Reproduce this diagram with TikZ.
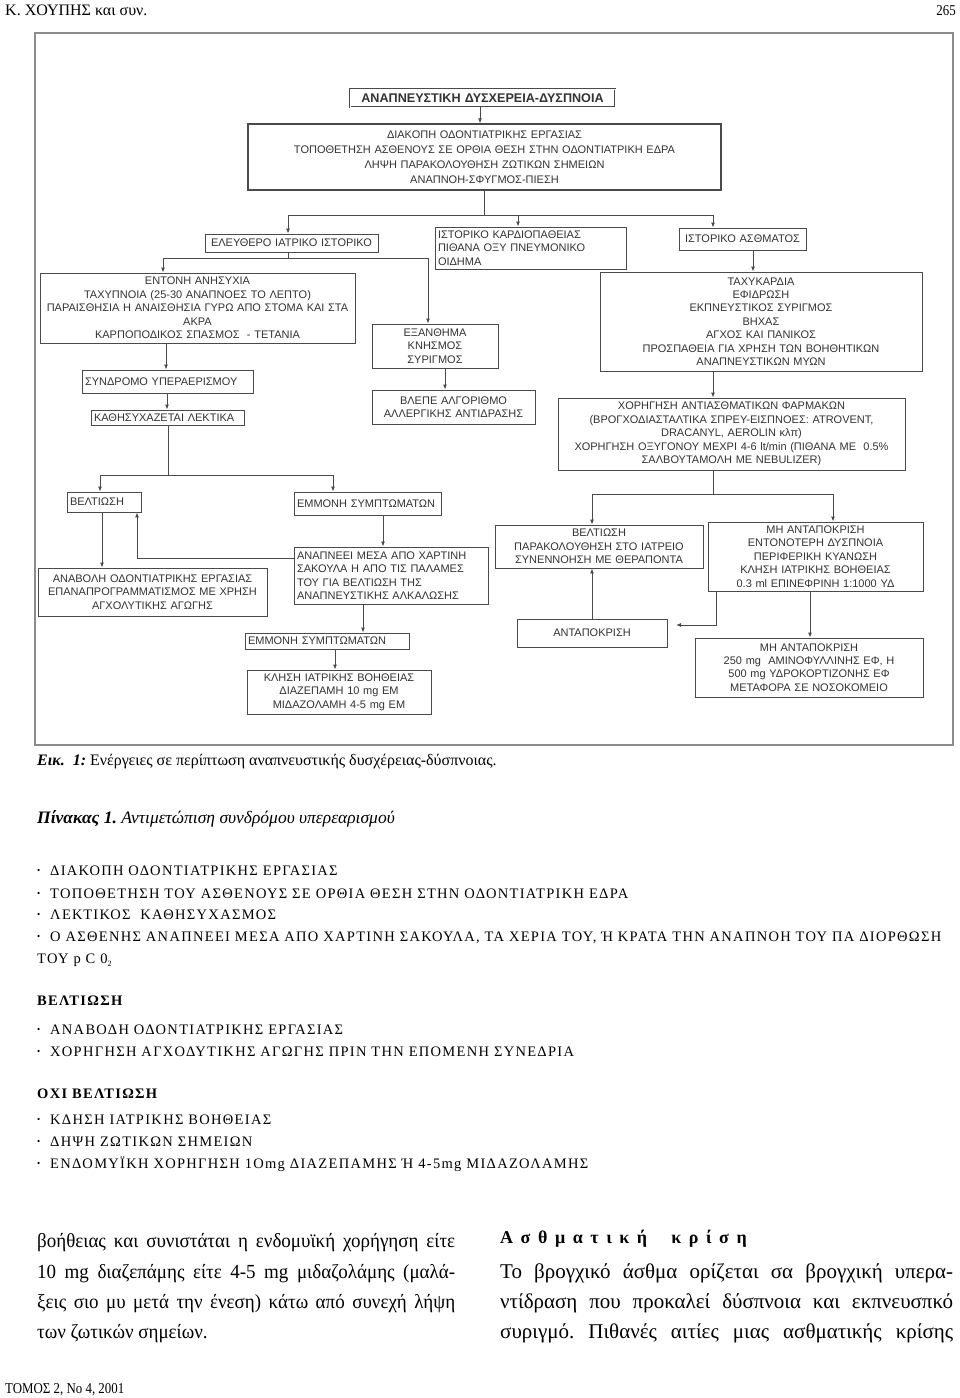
\documentclass[tikz,border=0pt]{standalone}
\usepackage{fontspec}
\setmainfont{Liberation Serif}
\newfontfamily\fcfont{Liberation Sans}
\newfontfamily\lsfont[LetterSpace=9]{Liberation Serif}
\newfontfamily\narrowfont[FakeStretch=0.86]{Liberation Serif}
\newfontfamily\parafont[FakeStretch=0.95]{Liberation Serif}
\newfontfamily\wideboldfont[LetterSpace=42]{Liberation Serif}
\frenchspacing
\usetikzlibrary{arrows.meta}
\definecolor{linec}{HTML}{4A4A4A}
\definecolor{txtc}{HTML}{333333}
\definecolor{framec}{HTML}{8C8C8C}
\tikzset{
  box/.style={draw=linec, line width=0.9pt, inner xsep=2pt, inner ysep=1pt,
    font=\fcfont\fontsize{11}{13.4}\selectfont, text=txtc},
  arr/.style={draw=linec, line width=0.9pt, -{Latex[length=5pt,width=4pt]}},
  ln/.style={draw=linec, line width=0.9pt},
  body/.style={anchor=base west, inner sep=0pt, font=\fontsize{16}{18}\selectfont},
  lst/.style={anchor=base west, inner sep=0pt, font=\lsfont\fontsize{14.5}{17}\selectfont},
  para/.style={anchor=base west, inner sep=0pt, font=\parafont\fontsize{20}{24}\selectfont},
  parar/.style={anchor=base west, inner sep=0pt, font=\fontsize{21}{24}\selectfont},
}
\newcommand\fbx[7][]{%
  \pgfmathsetmacro\bxw{#5-#3}%
  \pgfmathsetmacro\bxh{#6-#4}%
  \pgfmathsetmacro\bxt{#5-#3-4}%
  \node[box,align=center,text width=\bxt pt,minimum width=\bxw pt,minimum height=\bxh pt,#1] (#2) at ({(#3+#5)/2},{(#4+#6)/2}) {#7};%
}
\newcommand\bul{\makebox[13pt][l]{\fontsize{9}{9}\selectfont\raisebox{1.5pt}{•}}}
\begin{document}
\begin{tikzpicture}[x=1pt,y=-1pt]
\useasboundingbox (0,0) rectangle (960,1398);
\fill[white] (0,0) rectangle (960,1398);
% header / footer
\node[anchor=base west, inner sep=0pt, font=\fontsize{16}{18}\selectfont] (hdr) at (5,15) {Κ. ΧΟΥΠΗΣ και συν.};
\node[anchor=base east, inner sep=0pt, font=\narrowfont\fontsize{15}{17}\selectfont] (pg) at (956,15) {265};
\node[anchor=base west, inner sep=0pt, font=\narrowfont\fontsize{15}{17}\selectfont] (ftr) at (5,1393) {ΤΟΜΟΣ 2, Νο 4, 2001};
% frame
\draw[framec, line width=1.3pt] (35,33) rectangle (953,745);
% boxes
\fbx[double, double distance=1pt, font=\fcfont\bfseries\fontsize{12.6}{14}\selectfont]{title}{350}{89}{615}{107}{ΑΝΑΠΝΕΥΣΤΙΚΗ ΔΥΣΧΕΡΕΙΑ-ΔΥΣΠΝΟΙΑ}
\fbx[line width=1.3pt, font=\fcfont\fontsize{11}{15}\selectfont]{acts}{248}{124}{721}{190}{ΔΙΑΚΟΠΗ ΟΔΟΝΤΙΑΤΡΙΚΗΣ ΕΡΓΑΣΙΑΣ\\ΤΟΠΟΘΕΤΗΣΗ ΑΣΘΕΝΟΥΣ ΣΕ ΟΡΘΙΑ ΘΕΣΗ ΣΤΗΝ ΟΔΟΝΤΙΑΤΡΙΚΗ ΕΔΡΑ\\ΛΗΨΗ ΠΑΡΑΚΟΛΟΥΘΗΣΗ ΖΩΤΙΚΩΝ ΣΗΜΕΙΩΝ\\ΑΝΑΠΝΟΗ-ΣΦΥΓΜΟΣ-ΠΙΕΣΗ}
\fbx{free}{205}{234}{378}{252}{ΕΛΕΥΘΕΡΟ ΙΑΤΡΙΚΟ ΙΣΤΟΡΙΚΟ}
\fbx[align=left, inner xsep=3pt]{cardio}{436}{227}{625}{269}{ΙΣΤΟΡΙΚΟ ΚΑΡΔΙΟΠΑΘΕΙΑΣ\\ΠΙΘΑΝΑ ΟΞΥ ΠΝΕΥΜΟΝΙΚΟ\\ΟΙΔΗΜΑ}
\fbx{asthma}{679}{228}{806}{250}{ΙΣΤΟΡΙΚΟ ΑΣΘΜΑΤΟΣ}
\fbx{anx}{40}{273}{355}{343}{ΕΝΤΟΝΗ ΑΝΗΣΥΧΙΑ\\ΤΑΧΥΠΝΟΙΑ (25-30 ΑΝΑΠΝΟΕΣ ΤΟ ΛΕΠΤΟ)\\ΠΑΡΑΙΣΘΗΣΙΑ Η ΑΝΑΙΣΘΗΣΙΑ ΓΥΡΩ ΑΠΟ ΣΤΟΜΑ ΚΑΙ ΣΤΑ\\ΑΚΡΑ\\ΚΑΡΠΟΠΟΔΙΚΟΣ ΣΠΑΣΜΟΣ \ - ΤΕΤΑΝΙΑ}
\fbx[align=left, inner xsep=3pt]{synd}{83}{370}{252}{393}{ΣΥΝΔΡΟΜΟ ΥΠΕΡΑΕΡΙΣΜΟΥ}
\fbx[align=left, inner xsep=3pt]{calm}{92}{410}{243}{425}{ΚΑΘΗΣΥΧΑΖΕΤΑΙ ΛΕΚΤΙΚΑ}
\fbx{rash}{372}{324}{498}{368}{ΕΞΑΝΘΗΜΑ\\ΚΝΗΣΜΟΣ\\ΣΥΡΙΓΜΟΣ}
\fbx{allerg}{372}{390}{535}{424}{ΒΛΕΠΕ ΑΛΓΟΡΙΘΜΟ\\ΑΛΛΕΡΓΙΚΗΣ ΑΝΤΙΔΡΑΣΗΣ}
\fbx{tachy}{600}{272}{922}{371}{ΤΑΧΥΚΑΡΔΙΑ\\ΕΦΙΔΡΩΣΗ\\ΕΚΠΝΕΥΣΤΙΚΟΣ ΣΥΡΙΓΜΟΣ\\ΒΗΧΑΣ\\ΑΓΧΟΣ ΚΑΙ ΠΑΝΙΚΟΣ\\ΠΡΟΣΠΑΘΕΙΑ ΓΙΑ ΧΡΗΣΗ ΤΩΝ ΒΟΗΘΗΤΙΚΩΝ\\ΑΝΑΠΝΕΥΣΤΙΚΩΝ ΜΥΩΝ}
\fbx{drugs}{558}{398}{905}{470}{ΧΟΡΗΓΗΣΗ ΑΝΤΙΑΣΘΜΑΤΙΚΩΝ ΦΑΡΜΑΚΩΝ\\(ΒΡΟΓΧΟΔΙΑΣΤΑΛΤΙΚΑ ΣΠΡΕΥ-ΕΙΣΠΝΟΕΣ: ATROVENT,\\DRACANYL, AEROLIN κλπ)\\ΧΟΡΗΓΗΣΗ ΟΞΥΓΟΝΟΥ ΜΕΧΡΙ 4-6 lt/min (ΠΙΘΑΝΑ ΜΕ \ 0.5\%\\ΣΑΛΒΟΥΤΑΜΟΛΗ ΜΕ NEBULIZER)}
\fbx[align=left, inner xsep=3pt]{better1}{68}{492}{140}{512}{ΒΕΛΤΙΩΣΗ}
\fbx[align=left, inner xsep=3pt]{persist1}{295}{492}{440}{515}{ΕΜΜΟΝΗ ΣΥΜΠΤΩΜΑΤΩΝ}
\fbx{postpone}{38}{568}{267}{616}{ΑΝΑΒΟΛΗ ΟΔΟΝΤΙΑΤΡΙΚΗΣ ΕΡΓΑΣΙΑΣ\\ΕΠΑΝΑΠΡΟΓΡΑΜΜΑΤΙΣΜΟΣ ΜΕ ΧΡΗΣΗ\\ΑΓΧΟΛΥΤΙΚΗΣ ΑΓΩΓΗΣ}
\fbx[align=left, inner xsep=3pt]{bag}{295}{547}{487}{604}{ΑΝΑΠΝΕΕΙ ΜΕΣΑ ΑΠΟ ΧΑΡΤΙΝΗ\\ΣΑΚΟΥΛΑ Η ΑΠΟ ΤΙΣ ΠΑΛΑΜΕΣ\\ΤΟΥ ΓΙΑ ΒΕΛΤΙΩΣΗ ΤΗΣ\\ΑΝΑΠΝΕΥΣΤΙΚΗΣ ΑΛΚΑΛΩΣΗΣ}
\fbx[align=left, inner xsep=3pt]{persist2}{246}{633}{408}{649}{ΕΜΜΟΝΗ ΣΥΜΠΤΩΜΑΤΩΝ}
\fbx{call}{247}{670}{431}{714}{ΚΛΗΣΗ ΙΑΤΡΙΚΗΣ ΒΟΗΘΕΙΑΣ\\ΔΙΑΖΕΠΑΜΗ 10 mg ΕΜ\\ΜΙΔΑΖΟΛΑΜΗ 4-5 mg ΕΜ}
\fbx{better2}{495}{525}{703}{568}{ΒΕΛΤΙΩΣΗ\\ΠΑΡΑΚΟΛΟΥΘΗΣΗ ΣΤΟ ΙΑΤΡΕΙΟ\\ΣΥΝΕΝΝΟΗΣΗ ΜΕ ΘΕΡΑΠΟΝΤΑ}
\fbx{noresp1}{708}{522}{923}{591}{ΜΗ ΑΝΤΑΠΟΚΡΙΣΗ\\ΕΝΤΟΝΟΤΕΡΗ ΔΥΣΠΝΟΙΑ\\ΠΕΡΙΦΕΡΙΚΗ ΚΥΑΝΩΣΗ\\ΚΛΗΣΗ ΙΑΤΡΙΚΗΣ ΒΟΗΘΕΙΑΣ\\0.3 ml ΕΠΙΝΕΦΡΙΝΗ 1:1000 ΥΔ}
\fbx{resp}{517}{619}{667}{647}{ΑΝΤΑΠΟΚΡΙΣΗ}
\fbx{noresp2}{695}{638}{923}{697}{ΜΗ ΑΝΤΑΠΟΚΡΙΣΗ\\250 mg \ ΑΜΙΝΟΦΥΛΛΙΝΗΣ ΕΦ, Η\\500 mg ΥΔΡΟΚΟΡΤΙΖΟΝΗΣ ΕΦ\\ΜΕΤΑΦΟΡΑ ΣΕ ΝΟΣΟΚΟΜΕΙΟ}
% junction coordinates
\coordinate (j1) at (484,215);
\coordinate (j1L) at (288,215);
\coordinate (j1M) at (518,215);
\coordinate (j1R) at (713,215);
\coordinate (j2) at (288,258);
\coordinate (j2L) at (163,258);
\coordinate (j2R) at (428,258);
\coordinate (j3) at (168,475);
\coordinate (j3L) at (100,475);
\coordinate (j3R) at (333,475);
\coordinate (j4) at (137,558);
\coordinate (j5) at (713,494);
\coordinate (j5L) at (592,494);
\coordinate (j5R) at (833,494);
\coordinate (j6) at (716,625);
\coordinate (j6e) at (676,625);
% connectors
\draw[arr] (title.south -| 480,0) -- (acts.north -| 480,0);
\draw[ln] (acts.south -| j1) -- (j1);
\draw[ln] (j1L) -- (j1R);
\draw[arr] (j1L) -- (free.north -| j1L);
\draw[arr] (j1M) -- (cardio.north -| j1M);
\draw[arr] (j1R) -- (asthma.north -| j1R);
\draw[ln] (free.south -| j2) -- (j2);
\draw[ln] (j2L) -- (j2R);
\draw[arr] (j2L) -- (anx.north -| j2L);
\draw[arr] (j2R) -- (rash.north -| j2R);
\draw[arr] (anx.south -| 166,0) -- (synd.north -| 166,0);
\draw[arr] (synd.south -| 167,0) -- (calm.north -| 167,0);
\draw[ln] (calm.south -| j3) -- (j3);
\draw[ln] (j3L) -- (j3R);
\draw[arr] (j3L) -- (better1.north -| j3L);
\draw[arr] (j3R) -- (persist1.north -| j3R);
\draw[arr] (better1.south -| 102,0) -- (postpone.north -| 102,0);
\draw[arr] (bag.west |- j4) -- (j4) -- (better1.south -| j4);
\draw[arr] (persist1.south -| 383,0) -- (bag.north -| 383,0);
\draw[arr] (bag.south -| 363,0) -- (persist2.north -| 363,0);
\draw[arr] (persist2.south -| 335,0) -- (call.north -| 335,0);
\draw[arr] (rash.south -| 445,0) -- (allerg.north -| 445,0);
\draw[arr] (asthma.south -| 753,0) -- (tachy.north -| 753,0);
\draw[arr] (tachy.south -| j5) -- (drugs.north -| j5);
\draw[ln] (drugs.south -| j5) -- (j5);
\draw[ln] (j5L) -- (j5R);
\draw[arr] (j5L) -- (better2.north -| j5L);
\draw[arr] (j5R) -- (noresp1.north -| j5R);
\draw[arr] (noresp1.south -| j6) -- (j6) -- (j6e);
\draw[arr] (resp.north -| j5L) -- (better2.south -| j5L);
\draw[arr] (noresp1.south -| 810,0) -- (noresp2.north -| 810,0);
% caption and table
\node[body] (cap) at (37,765) {\textbf{\textit{Εικ. \ 1:}} Ενέργειες σε περίπτωση αναπνευστικής δυσχέρειας-δύσπνοιας.};
\node[body, font=\fontsize{17.5}{20}\selectfont] (tab) at (37,823) {\textbf{\textit{Πίνακας 1.}} \textit{Αντιμετώπιση συνδρόμου υπερεαρισμού}};
\node[lst] (l1) at (37,875) {\bul ΔΙΑΚΟΠΗ ΟΔΟΝΤΙΑΤΡΙΚΗΣ ΕΡΓΑΣΙΑΣ};
\node[lst] (l2) at (37,898) {\bul ΤΟΠΟΘΕΤΗΣΗ ΤΟΥ ΑΣΘΕΝΟΥΣ ΣΕ ΟΡΘΙΑ ΘΕΣΗ ΣΤΗΝ ΟΔΟΝΤΙΑΤΡΙΚΗ ΕΔΡΑ};
\node[lst] (l3) at (37,919) {\bul ΛΕΚΤΙΚΟΣ \ ΚΑΘΗΣΥΧΑΣΜΟΣ};
\node[lst] (l4) at (37,941) {\bul Ο ΑΣΘΕΝΗΣ ΑΝΑΠΝΕΕΙ ΜΕΣΑ ΑΠΟ ΧΑΡΤΙΝΗ ΣΑΚΟΥΛΑ, ΤΑ ΧΕΡΙΑ ΤΟΥ, Ή ΚΡΑΤΑ ΤΗΝ ΑΝΑΠΝΟΗ ΤΟΥ ΠΑ ΔΙΟΡΘΩΣΗ};
\node[lst] (l5) at (37,963) {ΤΟΥ p C 0\raisebox{-3pt}{\fontsize{8}{8}\selectfont 2}};
\node[lst, font=\lsfont\bfseries\fontsize{14.5}{17}\selectfont] (h1) at (37,1005) {ΒΕΛΤΙΩΣΗ};
\node[lst] (l6) at (37,1034) {\bul ΑΝΑΒΟΔΗ ΟΔΟΝΤΙΑΤΡΙΚΗΣ ΕΡΓΑΣΙΑΣ};
\node[lst] (l7) at (37,1056) {\bul ΧΟΡΗΓΗΣΗ ΑΓΧΟΔΥΤΙΚΗΣ ΑΓΩΓΗΣ ΠΡΙΝ ΤΗΝ ΕΠΟΜΕΝΗ ΣΥΝΕΔΡΙΑ};
\node[lst, font=\lsfont\bfseries\fontsize{14.5}{17}\selectfont] (h2) at (37,1098) {ΟΧΙ ΒΕΛΤΙΩΣΗ};
\node[lst] (l8) at (37,1124) {\bul ΚΔΗΣΗ ΙΑΤΡΙΚΗΣ ΒΟΗΘΕΙΑΣ};
\node[lst] (l9) at (37,1146) {\bul ΔΗΨΗ ΖΩΤΙΚΩΝ ΣΗΜΕΙΩΝ};
\node[lst] (l10) at (37,1168) {\bul ΕΝΔΟΜΥΪΚΗ ΧΟΡΗΓΗΣΗ 1Οmg ΔΙΑΖΕΠΑΜΗΣ Ή 4-5mg ΜΙΔΑΖΟΛΑΜΗΣ};
% two columns
\node[para] (p1) at (37,1247) {\makebox[418pt][s]{βοήθειας και συνιστάται η ενδομυϊκή χορήγηση είτε}};
\node[para] (p2) at (37,1278) {\makebox[418pt][s]{10 mg διαζεπάμης είτε 4-5 mg μιδαζολάμης (μαλά-}};
\node[para] (p3) at (37,1308) {\makebox[418pt][s]{ξεις σιο μυ μετά την ένεση) κάτω από συνεχή λήψη}};
\node[para] (p4) at (37,1338) {των ζωτικών σημείων.};
\node[para, font=\wideboldfont\bfseries\fontsize{18}{22}\selectfont] (ah) at (500,1243) {Ασθματική \ κρίση};
\node[parar] (q1) at (500,1278) {\makebox[453pt][s]{Το βρογχικό άσθμα ορίζεται σα βρογχική υπερα-}};
\node[parar] (q2) at (500,1308) {\makebox[453pt][s]{ντίδραση που προκαλεί δύσπνοια και εκπνευσπκό}};
\node[parar] (q3) at (500,1338) {\makebox[453pt][s]{συριγμό. Πιθανές αιτίες μιας ασθματικής κρίσης}};
\end{tikzpicture}
\end{document}
